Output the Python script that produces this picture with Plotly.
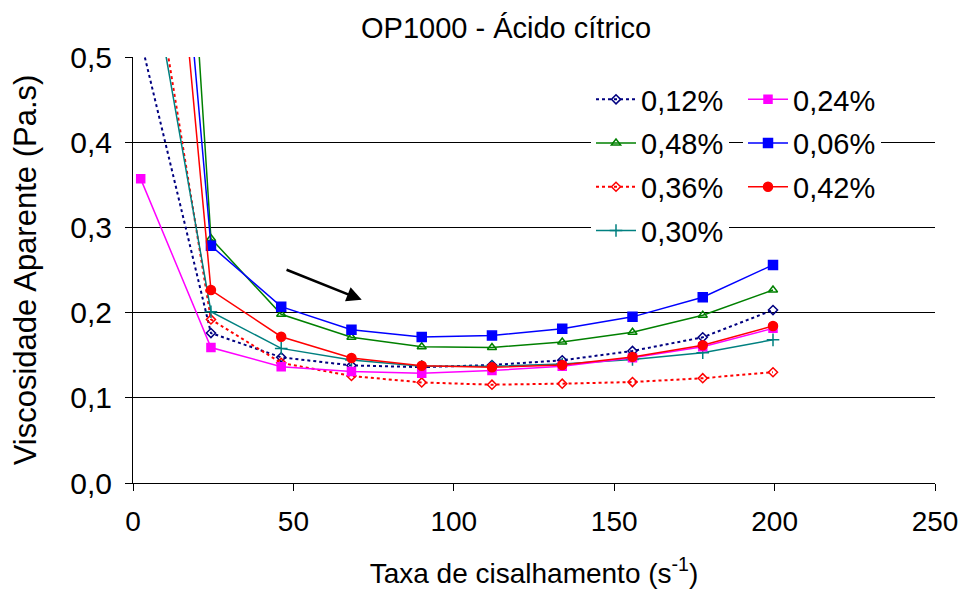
import plotly.graph_objects as go

# ---- data ----
shear_rate = [2.4, 24.3, 46.2, 68.1, 90.0, 111.9, 133.8, 155.7, 177.6, 199.5]

v_012 = [0.52, 0.176, 0.1475, 0.138, 0.136, 0.1385, 0.144, 0.155, 0.171, 0.203]
v_024 = [0.357, 0.159, 0.1365, 0.131, 0.1287, 0.132, 0.137, 0.147, 0.160, 0.1815]
v_048 = [1.57, 0.287, 0.198, 0.171, 0.160, 0.159, 0.1655, 0.177, 0.197, 0.2265]
v_006 = [1.21, 0.2785, 0.207, 0.180, 0.1714, 0.173, 0.181, 0.195, 0.218, 0.256]
v_036 = [0.70, 0.192, 0.141, 0.1256, 0.118, 0.1154, 0.1166, 0.1185, 0.123, 0.130]
v_042 = [1.12, 0.2265, 0.1717, 0.1467, 0.1377, 0.1358, 0.1385, 0.148, 0.1616, 0.1843]
v_030 = [0.67, 0.201, 0.158, 0.1444, 0.137, 0.137, 0.1397, 0.145, 0.153, 0.168]

y_ticks = [0.0, 0.1, 0.2, 0.3, 0.4, 0.5]
y_ticktext = ["0,0", "0,1", "0,2", "0,3", "0,4", "0,5"]
x_ticks = [0, 50, 100, 150, 200, 250]

# arrow (annotation) endpoints in data units
arrow_start = (47.4, 0.251)
arrow_end = (71.3, 0.215)

FONT = "Liberation Sans, Arial, sans-serif"

series = [
    # name, values, color, dash, symbol, size, width, legend
    ("0,12%", v_012, "#000080", "3px,3px", "diamond-open", 7, 2, "legend"),
    ("0,48%", v_048, "#008000", "solid", "triangle-up-open", 8, 1.5, "legend"),
    ("0,36%", v_036, "#FF0000", "3px,3px", "diamond-open", 7, 2, "legend"),
    ("0,30%", v_030, "#008080", "solid", "cross-thin-open", 9, 1.5, "legend"),
    ("0,24%", v_024, "#FF00FF", "solid", "square", 8, 1.5, "legend2"),
    ("0,06%", v_006, "#0000FF", "solid", "square", 9, 1.5, "legend2"),
    ("0,42%", v_042, "#FF0000", "solid", "circle", 9, 1.5, "legend2"),
]

fig = go.Figure()
for i, (name, vals, color, dash, sym, size, width, leg) in enumerate(series):
    fig.add_trace(go.Scatter(
        x=shear_rate, y=vals, name=name, mode="lines+markers",
        line=dict(color=color, dash=dash, width=width),
        marker=dict(symbol=sym, size=size, color=color,
                    line=dict(color=color, width=1.5)),
        legend=leg, legendgroup=name,
    ))

legend_common = dict(
    font=dict(family=FONT, size=29, color="black"),
    bgcolor="white", borderwidth=0, orientation="v",
    xanchor="left", yanchor="top", tracegroupgap=3,
    itemwidth=40,
)

fig.update_layout(
    width=964, height=592,
    margin=dict(l=133, r=29, t=57, b=109, autoexpand=False),
    paper_bgcolor="white", plot_bgcolor="white",
    font=dict(family=FONT, color="black"),
    title=dict(text="OP1000 - Ácido cítrico", x=0.525, xanchor="center",
               xref="container", y=1 - 28 / 592, yref="container", yanchor="middle",
               font=dict(family=FONT, size=29, color="black")),
    xaxis=dict(range=[0, 250], tickvals=x_ticks, showgrid=False,
               showline=True, linecolor="black", linewidth=1,
               ticks="outside", ticklen=7, tickcolor="black",
               ticklabelstandoff=6, automargin=False,
               tickfont=dict(family=FONT, size=28, color="black"),
               title=dict(text="Taxa de cisalhamento (s<sup>-1</sup>)",
                          font=dict(family=FONT, size=28, color="black"), standoff=27),
               zeroline=False),
    yaxis=dict(range=[0, 0.5], tickvals=y_ticks, ticktext=y_ticktext,
               showgrid=True, gridcolor="black", gridwidth=1,
               showline=True, linecolor="black", linewidth=1,
               ticks="outside", ticklen=7, tickcolor="black",
               ticklabelstandoff=7, automargin=False,
               tickfont=dict(family=FONT, size=30, color="black"),
               title=dict(text="Viscosidade Aparente (Pa.s)",
                          font=dict(family=FONT, size=31, color="black"), standoff=24),
               zeroline=False),
    legend=dict(x=(591 - 133) / 802, y=1 - (74 - 57) / 426, **legend_common),
    legend2=dict(x=(743 - 133) / 802, y=1 - (74 - 57) / 426, **legend_common),
    showlegend=True,
)

fig.add_annotation(
    x=arrow_end[0], y=arrow_end[1], ax=arrow_start[0], ay=arrow_start[1],
    xref="x", yref="y", axref="x", ayref="y",
    text="", showarrow=True, arrowhead=2, arrowsize=1.2, arrowwidth=2.5,
    arrowcolor="black",
)

fig.write_html("out.html")
